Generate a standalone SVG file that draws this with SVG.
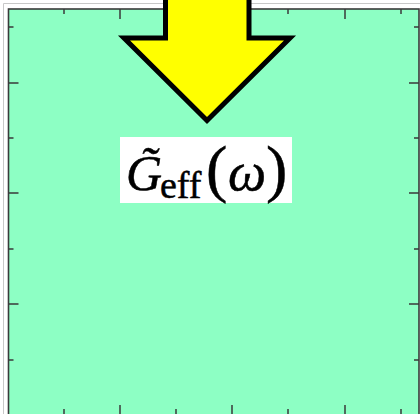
<svg xmlns="http://www.w3.org/2000/svg" width="420" height="414" viewBox="0 0 420 414">
<style>
.tk{stroke:#3a3a3a;stroke-width:1.5;fill:none}
.fr{stroke:#3a3a3a;stroke-width:1.6;fill:#8DFFC4}
.it{font-family:"Liberation Serif","DejaVu Serif",serif;font-style:italic;fill:#000;stroke:#000;stroke-width:0.5}
.rm{font-family:"Liberation Serif","DejaVu Serif",serif;fill:#000;stroke:#000;stroke-width:0.5}
</style>
<rect width="420" height="414" fill="#ffffff"/>
<g id="outer-frame">
<path d="M3.5 414 V3.5 H420" stroke="#c8c8c8" stroke-width="1" fill="none"/>
</g>
<g id="plot">
<rect class="fr" x="8.5" y="9" width="410.5" height="420"/>
<g id="ticks">
<path class="tk" d="M64 9v5M120 9v10M176 9v5M232 9v10M288 9v5M345 9v10M401 9v5"/>
<path class="tk" d="M64 414v-5M120 414v-9M176 414v-5M232 414v-9M288 414v-5M345 414v-9M401 414v-5"/>
<path class="tk" d="M8.5 27h5M8.5 83h10M8.5 138h5M8.5 193h10M8.5 249h5M8.5 304h10M8.5 360h5"/>
<path class="tk" d="M419 27h-5M419 83h-10M419 138h-5M419 193h-10M419 249h-5M419 304h-10M419 360h-5"/>
</g>
</g>
<g id="arrow">
<polygon points="165.5,-10 249,-10 249,38 290,38 207,120.5 124,38 165.5,38" fill="#FFFF00" stroke="#000" stroke-width="5" stroke-miterlimit="10"/>
</g>
<g id="label">
<rect x="120" y="137" width="172" height="66" fill="#ffffff"/>
<text class="it" x="126" y="190" font-size="50">G&#x303;</text>
<text class="rm" x="160" y="198" font-size="38">eff</text>
<text class="rm" x="206" y="190" font-size="64">(</text>
<text class="it" x="228" y="190" font-size="54">ω</text>
<text class="rm" x="266" y="190" font-size="64">)</text>
</g>
</svg>
